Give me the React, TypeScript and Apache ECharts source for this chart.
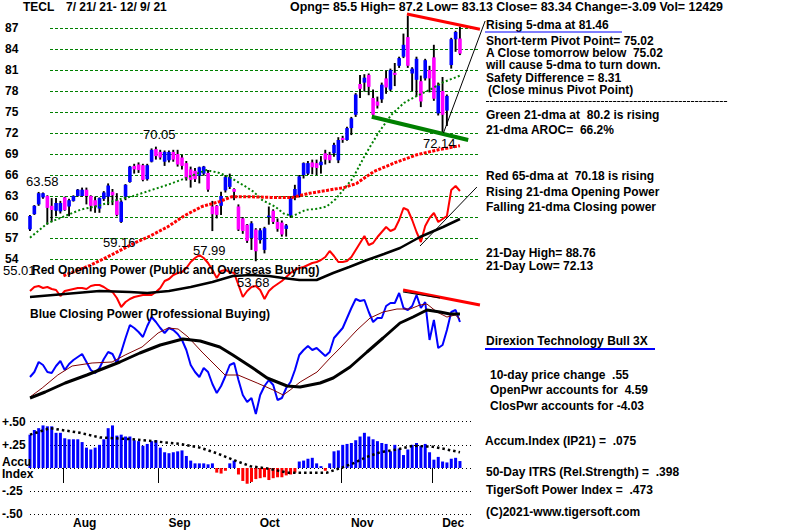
import React, { useEffect, useRef } from "react";
import * as echarts from "echarts";

const FONT = '"Liberation Sans", Arial, Helvetica, sans-serif';

// ---------------- DATA (100 trading days, 7/21/21 - 12/9/21) ----------------
const opens = [
  58.24, 60.4, 61.8, 62.8, 63.0, 61.6, 60.9, 60.8, 62.8, 61.5,
  62.3, 63.0, 63.0, 63.9, 63.0, 62.4, 61.2, 62.6, 62.9, 63.6,
  62.4, 59.3, 62.9, 65.0, 67.3, 67.5, 67.4, 65.4, 67.9, 69.7,
  69.3, 67.9, 68.1, 69.3, 69.0, 68.5, 67.7, 66.8, 66.6, 65.9,
  66.2, 66.3, 61.5, 61.6, 61.6, 63.8, 64.3, 64.0, 61.5, 59.8,
  58.9, 57.0, 58.2, 56.7, 55.3, 60.0, 60.9, 59.3, 59.2, 58.3,
  60.2, 63.0, 63.0, 66.0, 66.2, 67.8, 67.7, 67.4, 69.1, 68.9,
  69.1, 68.1, 71.3, 71.0, 72.7, 74.6, 79.0, 79.2, 80.3, 77.0,
  76.5, 76.8, 79.8, 78.2, 80.6, 81.6, 82.9, 85.7, 80.5, 79.6,
  79.4, 79.8, 81.0, 82.8, 74.8, 78.0, 75.2, 81.7, 85.4, 85.5,
];
const closes = [
  60.14, 61.6, 63.4, 63.4, 61.3, 61.0, 62.0, 62.0, 61.0, 62.4,
  63.0, 63.9, 63.9, 63.0, 61.6, 61.6, 62.7, 63.5, 64.5, 63.1,
  60.3, 62.2, 64.6, 67.2, 66.8, 66.7, 65.3, 67.4, 69.6, 68.7,
  68.5, 69.3, 69.3, 68.2, 67.5, 67.3, 65.5, 65.3, 65.4, 67.1,
  67.2, 63.9, 60.4, 60.3, 63.0, 65.7, 65.7, 63.6, 58.2, 58.0,
  56.6, 59.1, 55.1, 58.1, 58.4, 60.2, 59.3, 58.3, 57.5, 58.8,
  62.7, 64.0, 65.8, 67.7, 67.7, 67.1, 67.0, 67.9, 68.2, 68.1,
  70.3, 71.0, 71.0, 72.7, 74.1, 77.5, 78.3, 79.9, 78.6, 74.6,
  75.9, 78.9, 78.5, 81.0, 80.3, 82.7, 84.6, 81.6, 81.2, 82.6,
  76.5, 82.4, 79.8, 76.9, 78.8, 74.6, 77.3, 85.4, 86.43, 83.34,
];
const lows = [
  58.0, 60.3, 61.6, 62.6, 58.9, 59.3, 60.1, 60.5, 60.9, 60.1,
  62.2, 62.9, 62.9, 61.8, 60.8, 60.6, 60.6, 62.3, 61.7, 61.7,
  60.1, 59.16, 62.4, 64.9, 66.2, 66.3, 65.1, 65.2, 67.8, 68.2,
  68.2, 67.3, 67.8, 67.9, 67.2, 66.8, 65.2, 64.2, 65.0, 64.8,
  65.9, 63.6, 57.99, 59.8, 60.3, 63.5, 64.0, 62.4, 58.0, 57.6,
  56.3, 55.3, 53.68, 56.2, 54.8, 58.9, 59.0, 57.9, 57.2, 57.2,
  59.9, 62.4, 62.8, 65.5, 66.0, 66.1, 66.0, 66.2, 67.5, 67.7,
  68.6, 67.7, 70.6, 70.9, 71.7, 74.3, 77.0, 77.9, 77.4, 74.5,
  75.5, 76.3, 77.6, 78.0, 78.7, 81.3, 82.7, 81.3, 78.0, 77.2,
  75.7, 79.5, 77.8, 76.6, 74.5, 72.13, 73.0, 81.2, 83.6, 83.13,
];
const highs = [
  60.3, 61.7, 63.58, 63.5, 63.1, 62.7, 62.7, 62.3, 62.9, 62.6,
  63.1, 64.0, 64.2, 64.2, 63.1, 62.9, 62.8, 63.7, 64.8, 64.0,
  63.4, 62.4, 64.7, 67.3, 67.6, 67.8, 67.6, 67.6, 69.8, 70.05,
  69.6, 69.5, 69.5, 69.6, 69.6, 68.9, 68.0, 67.2, 67.0, 67.2,
  67.3, 66.7, 62.3, 61.7, 63.6, 66.0, 66.2, 64.1, 61.8, 60.0,
  59.0, 59.4, 58.4, 58.4, 58.6, 61.5, 61.1, 59.8, 59.5, 59.0,
  62.9, 64.6, 66.0, 67.8, 68.0, 68.2, 68.2, 68.7, 69.6, 69.3,
  70.6, 71.4, 71.6, 72.9, 74.3, 77.7, 80.3, 80.4, 80.5, 78.2,
  77.2, 79.2, 80.9, 81.2, 82.0, 82.9, 86.2, 88.76, 81.4, 82.9,
  80.2, 82.6, 81.6, 84.6, 79.2, 80.0, 77.5, 85.6, 86.6, 87.2,
];

// moving averages, read at [day, value]
const ma21: [number, number][] = [
  [0, 57.05], [4, 59.1], [7.9, 60.1], [11.9, 61.1], [15.8, 61.6], [19.8, 62.4],
  [23.8, 63.0], [27.7, 63.8], [31.7, 64.6], [35.6, 65.5], [40.6, 66.7], [43.6, 66.3],
  [46.5, 65.5], [49.5, 64.4], [51.5, 63.6], [53.5, 62.4], [56.4, 61.5], [58.4, 60.5],
  [60.4, 60.1], [63.4, 61.0], [66.3, 61.2], [68.3, 61.5], [70.3, 62.5], [72.3, 64.0],
  [74.3, 65.5], [77.2, 68.9], [80.2, 72.0], [83.2, 74.6], [86.1, 76.3], [89.1, 77.3],
  [92.1, 78.2], [95, 79.2], [99, 80.2],
];
const ma65: [number, number][] = [
  [7.7, 51.6], [13.9, 53.1], [18.8, 54.6], [23.8, 56.2], [27.7, 57.3], [31.7, 58.6],
  [35.6, 60.2], [39.6, 61.5], [43.6, 62.2], [46.5, 62.9], [50.5, 62.9], [55.4, 62.8],
  [60.4, 62.8], [64.4, 63.4], [68.3, 63.8], [72.3, 64.2], [75.2, 64.8], [79.2, 66.5],
  [84.2, 67.8], [89.1, 68.9], [94, 69.6], [99, 70.18],
];

// Opening Power (indicator units)
const openPower = [
  9, 13, 14, 12, 13, 11, 10, 4, 9, 10,
  11, 12, 12, 11, 14, 15, 15, 13, 10, 8,
  2, -7, -2, 1, 3, 4, 5, 5, 5, 8,
  12, 19, 21, 25, 27, 28, 32, 38, 42, 45,
  42, 37, 30, 22, 29, 30, 28, 27, 15, 3,
  9, 13, 14, 10, 1, 9, 13, 16, 19, 23,
  27, 30, 32, 33, 35, 37, 38, 40, 43, 49,
  44, 38, 38, 39, 43, 50, 57, 64, 55, 57,
  63, 68, 73, 69, 71, 80, 92, 90, 80, 68,
  58, 74, 82, 87, 78, 81, 84, 110, 114, 109,
];
const openPowerMA: [number, number][] = [
  [0, 3], [8, 6], [16, 9], [23, 8], [27, 7], [32, 9], [37, 13], [42, 18], [46.7, 24],
  [51, 25], [55, 24], [58.3, 22], [62, 20], [66, 20], [69.8, 27], [73.5, 33],
  [77.6, 40], [81.5, 46], [85.2, 52], [89.8, 63], [95.1, 73], [99, 81],
];

// Closing Power (indicator units)
const closePower = [
  43, 48, 58, 55, 48, 47, 54, 59, 50, 56,
  60, 63, 66, 58, 50, 47, 52, 61, 68, 66,
  57, 68, 82, 95, 92, 88, 83, 94, 103, 98,
  92, 87, 92, 90, 86, 80, 70, 55, 48, 43,
  52, 48, 36, 27, 34, 44, 55, 57, 40, 25,
  18, 22, 6, 25, 34, 40, 35, 20, 22, 32,
  38, 50, 65, 70, 74, 70, 72, 68, 64, 68,
  82, 87, 92, 102, 112, 121, 119, 120, 108, 98,
  102, 102, 114, 117, 117, 127, 112, 110, 114, 125,
  112, 118, 80, 100, 72, 75, 90, 108, 110, 98,
];
const closePowerFast: [number, number][] = [
  [0, 23], [2.8, 32], [6.4, 45], [9.7, 54], [14.3, 57], [18.9, 58], [21.9, 65],
  [25.8, 73], [29.5, 87], [31.8, 92], [34.1, 91], [36.4, 83], [39.6, 68], [42.6, 55],
  [44.9, 45], [47.9, 45], [52.3, 37], [56, 30], [58.3, 25], [59.9, 30], [62.2, 38],
  [66.1, 48], [69.1, 62], [71.4, 72], [75.3, 90], [78.3, 102], [81.3, 108],
  [84.5, 111], [87.5, 111], [89.8, 115], [91.4, 116], [93.7, 108], [96, 103],
  [97.9, 105], [99, 101],
];
const closePowerSlow: [number, number][] = [
  [0, 22], [3.5, 28], [8.1, 37], [13.1, 45], [20.7, 58], [25.3, 67], [30, 75],
  [35.2, 81], [39.2, 79], [43.7, 73], [46.7, 65], [51.3, 52], [54.6, 42], [59.2, 34],
  [62.2, 33], [66.8, 37], [69.8, 42], [73.7, 53], [77.6, 68], [81.3, 82], [85.2, 97],
  [88.2, 103], [91.4, 110], [94.4, 108], [96.7, 106], [99, 106],
];

// Accumulation Index (IP21)
const accum = [
  0.36, 0.41, 0.43, 0.46, 0.45, 0.45, 0.38, 0.38, 0.32, 0.31,
  0.31, 0.31, 0.28, 0.22, 0.2, 0.22, 0.25, 0.31, 0.43, 0.46,
  0.35, 0.36, 0.34, 0.34, 0.3, 0.29, 0.24, 0.26, 0.29, 0.3,
  0.22, 0.17, 0.16, 0.17, 0.18, 0.19, 0.13, 0.08, 0.05, 0.05,
  0.05, 0.04, 0.05, -0.05, -0.06, -0.03, 0.05, 0.08, -0.07, -0.14,
  -0.17, -0.15, -0.12, -0.11, -0.1, -0.13, -0.11, -0.1, -0.1, -0.08,
  -0.07, -0.05, 0.07, 0.08, 0.1, 0.11, 0.05, 0.02, -0.03, 0.05,
  0.18, 0.19, 0.25, 0.26, 0.27, 0.3, 0.34, 0.38, 0.34, 0.31,
  0.29, 0.27, 0.26, 0.18, 0.25, 0.21, 0.14, 0.2, 0.25, 0.27,
  0.24, 0.26, 0.17, 0.09, 0.12, 0.07, 0.06, 0.1, 0.11, 0.075,
];
const accumMA: [number, number][] = [
  [0, 0.36], [4.6, 0.43], [11.5, 0.38], [16.1, 0.33], [23.7, 0.31], [28.3, 0.29],
  [34.5, 0.26], [39.1, 0.22], [43, 0.16], [46.7, 0.09], [50.7, 0.02], [55.3, -0.01],
  [59.2, -0.05], [63.8, -0.05], [68.4, -0.05], [72.1, 0.01], [74.4, 0.05], [77.6, 0.12],
  [80.6, 0.17], [84.5, 0.2], [88.2, 0.24], [92.8, 0.23], [96, 0.2], [99, 0.17],
];

// trend lines [day, value]
const priceResistance: [number, number][] = [[86.8, 89.0], [103.6, 86.81]];
const priceSupport: [number, number][] = [[78.7, 74.33], [100.9, 71.0]];
const priceFan: [number, number][] = [[95.2, 72.0], [104.8, 88.0]];
const openPowerTrend: [number, number][] = [[89.8, 54], [102.9, 113]];
const closePowerTrend: [number, number][] = [[85.9, 130], [103.6, 115]];
const closePowerTrendThin: [number, number][] = [[85.9, 128], [94.4, 122]];

// axes
const monthNames = ["Aug", "Sep", "Oct", "Nov", "Dec"];
const monthStart = [8, 30, 51, 72, 93];
const priceMin = 54, priceMax = 87, priceStep = 3;

// ---------------- LAYOUT ----------------
const X0 = 30; // pixel of day 0
const DX = 4.343; // pixels per trading day
const XMIN = -1, XMAX = 106;
const dgLeft = X0 + XMIN * DX;
const dgWidth = (XMAX - XMIN) * DX;

function txt(text: string, x: number, y: number, o: any = {}) {
  return {
    type: "text",
    x,
    y,
    z: 100,
    silent: true,
    style: {
      text,
      fill: o.fill || "#000",
      fontSize: o.size || 12,
      fontWeight: o.weight || "bold",
      fontFamily: FONT,
      align: o.align || "left",
      verticalAlign: "middle",
    },
  };
}

function lineSeries(data: any[], idx: number, color: string, width: number, type: any = "solid", z = 3) {
  return {
    type: "line",
    xAxisIndex: idx,
    yAxisIndex: idx,
    data,
    symbol: "none",
    showSymbol: false,
    silent: true,
    z,
    lineStyle: { color, width, type },
  };
}

export default function App() {
  const ref = useRef<HTMLDivElement>(null);
  useEffect(() => {
    if (!ref.current) return;
    const chart = echarts.init(ref.current, null, { renderer: "svg" });
    const hiddenX = (g: number, min: number, max: number) => ({
      type: "value", gridIndex: g, min, max, show: false,
    });
    const hiddenY = (g: number, min: number, max: number) => ({
      type: "value", gridIndex: g, min, max, show: false,
    });
    const monthTicks = monthStart.map((d) => d - 0.4);
    const monthLabelAt = monthStart.map((d) => d + 1.9);
    const candleData = opens.map((o, i) => [i, o, closes[i], lows[i], highs[i]]);

    const option: any = {
      animation: false,
      backgroundColor: "#fff",
      grid: [
        { left: 50, width: 430, top: 28, height: 231, outerBoundsMode: "none" },
        { left: dgLeft, width: dgWidth, top: 7, height: 315, outerBoundsMode: "none" },
        { left: dgLeft, width: dgWidth, top: 140, height: 180, outerBoundsMode: "none" },
        { left: dgLeft, width: dgWidth, top: 280, height: 140, outerBoundsMode: "none" },
        { left: 30, width: 442, top: 421.7, height: 92.6, outerBoundsMode: "none" },
        { left: dgLeft, width: dgWidth, top: 421.7, height: 92.6, outerBoundsMode: "none" },
      ],
      xAxis: [
        hiddenX(0, 0, 1),
        hiddenX(1, XMIN, XMAX),
        hiddenX(2, XMIN, XMAX),
        hiddenX(3, XMIN, XMAX),
        hiddenX(4, 0, 1),
        {
          type: "value",
          gridIndex: 5,
          min: XMIN,
          max: XMAX,
          position: "bottom",
          axisLine: { show: false },
          splitLine: { show: false },
          axisTick: {
            show: true,
            customValues: monthTicks,
            length: 15,
            lineStyle: { color: "#000", width: 1 },
          },
          axisLabel: {
            show: true,
            customValues: monthLabelAt,
            formatter: (v: number) => {
              let k = 0, best = 1e9;
              monthLabelAt.forEach((p, j) => {
                if (Math.abs(p - v) < best) { best = Math.abs(p - v); k = j; }
              });
              return monthNames[k];
            },
            align: "left",
            margin: 3,
            color: "#000",
            fontWeight: "bold",
            fontSize: 12,
            fontFamily: FONT,
          },
        },
      ],
      yAxis: [
        {
          type: "value",
          gridIndex: 0,
          min: priceMin,
          max: priceMax,
          interval: priceStep,
          axisLine: { show: false },
          axisTick: { show: false },
          splitLine: { show: true, lineStyle: { color: "#008000", width: 1, type: [3, 2] } },
          axisLabel: {
            align: "left",
            margin: 45,
            color: "#000",
            fontWeight: "bold",
            fontSize: 12,
            fontFamily: FONT,
          },
        },
        hiddenY(1, 45, 90),
        hiddenY(2, -20, 160),
        hiddenY(3, 0, 140),
        {
          type: "value",
          gridIndex: 4,
          min: -0.5,
          max: 0.5,
          interval: 0.25,
          axisLine: { show: false },
          axisTick: { show: false },
          splitLine: { show: true, lineStyle: { color: "#000", width: 1, type: [1, 3] } },
          axisLabel: {
            align: "left",
            margin: 28,
            color: "#000",
            fontWeight: "bold",
            fontSize: 12,
            fontFamily: FONT,
            formatter: (v: number) =>
              Math.abs(v) < 1e-9 ? "" : (v > 0 ? "+" : "-") + Math.abs(v).toFixed(2).replace(/^0/, ""),
          },
        },
        hiddenY(5, -0.5, 0.5),
      ],
      series: [
        {
          type: "custom",
          xAxisIndex: 1,
          yAxisIndex: 1,
          data: candleData,
          encode: { x: 0, y: [1, 2, 3, 4] },
          silent: true,
          z: 2,
          renderItem: (_p: any, api: any) => {
            const i = api.value(0);
            const o = api.value(1), c = api.value(2), l = api.value(3), h = api.value(4);
            const pO = api.coord([i, o]);
            const pC = api.coord([i, c]);
            const pL = api.coord([i, l]);
            const pH = api.coord([i, h]);
            const x = pO[0];
            const top = Math.min(pO[1], pC[1]);
            const bot = Math.max(pO[1], pC[1]);
            return {
              type: "group",
              children: [
                { type: "rect", shape: { x: x - 1, y: pH[1], width: 1.9, height: Math.max(1, pL[1] - pH[1]) }, style: { fill: "#000" } },
                { type: "rect", shape: { x: x - 1.8, y: top, width: 3.6, height: Math.max(1.5, bot - top) }, style: { fill: c >= o ? "#0000ff" : "#ff00ff" } },
              ],
            };
          },
        },
        lineSeries(ma21, 1, "#008000", 2, [2, 2.3], 4),
        lineSeries(ma65, 1, "#ff0000", 3, [3, 1.4], 4),
        lineSeries(priceResistance, 1, "#ff0000", 3, "solid", 5),
        lineSeries(priceSupport, 1, "#008000", 4, "solid", 5),
        lineSeries(priceFan, 1, "#000", 1, "solid", 5),
        lineSeries(openPower.map((v, i) => [i, v]), 2, "#ff0000", 2, "solid", 3),
        lineSeries(openPowerMA, 2, "#000", 2.5, "solid", 3),
        lineSeries(openPowerTrend, 2, "#000", 1, "solid", 4),
        lineSeries(closePower.map((v, i) => [i, v]), 3, "#0000ff", 2, "solid", 3),
        lineSeries(closePowerFast, 3, "#800000", 1, "solid", 4),
        lineSeries(closePowerSlow, 3, "#000", 3, "solid", 4),
        lineSeries(closePowerTrend, 3, "#ff0000", 3, "solid", 5),
        lineSeries(closePowerTrendThin, 3, "#000", 1, "solid", 5),
        {
          type: "bar",
          xAxisIndex: 5,
          yAxisIndex: 5,
          data: accum.map((v, i) => [i, v]),
          barWidth: 3,
          silent: true,
          z: 2,
          itemStyle: { color: (p: any) => (p.value[1] >= 0 ? "#0000ff" : "#ff0000") },
        },
        lineSeries(accumMA, 5, "#000", 2.5, [2.5, 3], 4),
      ],
      graphic: [
        txt("TECL", 23, 7),
        txt("7/ 21/ 21- 12/ 9/ 21", 66, 7),
        txt("Opng= 85.5 High= 87.2 Low= 83.13 Close= 83.34 Change=-3.09 Vol= 12429", 290, 7, { size: 12.4 }),
        txt("63.58", 26, 181, { weight: "normal", size: 13 }),
        txt("70.05", 143, 134, { weight: "normal", size: 13 }),
        txt("59.16", 103, 242, { weight: "normal", size: 13 }),
        txt("57.99", 193, 250, { weight: "normal", size: 13 }),
        txt("53.68", 237, 282, { weight: "normal", size: 13 }),
        txt("72.14", 423, 143, { weight: "normal", size: 13 }),
        txt("55.01", 3, 270, { weight: "normal", size: 13 }),
        txt("Red Opening Power (Public and Overseas Buying)", 32, 270),
        txt("Blue Closing Power (Professional Buying)", 30, 314),
        txt("Accu", 2, 462),
        txt("Index", 2, 474),
        txt("Rising 5-dma at 81.46", 486, 25),
        { type: "line", z: 100, silent: true, shape: { x1: 485, y1: 32, x2: 622, y2: 32 }, style: { stroke: "#0000ff", lineWidth: 1 } },
        txt("Short-term Pivot Point= 75.02", 486, 41),
        txt("A Close tomorrow below  75.02", 486, 53),
        txt("will cause 5-dma to turn down.", 486, 65),
        txt("Safety Difference = 8.31", 486, 78),
        txt("(Close minus Pivot Point)", 488, 90),
        { type: "line", z: 100, silent: true, shape: { x1: 486, y1: 101.5, x2: 728, y2: 101.5 }, style: { stroke: "#000", lineWidth: 1, lineDash: [3.2, 0.9] } },
        txt("Green 21-dma at  80.2 is rising", 486, 115),
        txt("21-dma AROC=  66.2%", 486, 130),
        txt("Red 65-dma at  70.18 is rising", 486, 176),
        txt("Rising 21-dma Opening Power", 486, 192),
        txt("Falling 21-dma Closing power", 486, 207),
        txt("21-Day High= 88.76", 486, 253),
        txt("21-Day Low= 72.13", 486, 266),
        txt("Direxion Technology Bull 3X", 486, 341),
        { type: "line", z: 100, silent: true, shape: { x1: 485, y1: 349, x2: 655, y2: 349 }, style: { stroke: "#0000ff", lineWidth: 2 } },
        txt("10-day price change  .55", 490, 375),
        txt("OpenPwr accounts for  4.59", 490, 390),
        txt("ClosPwr accounts for -4.03", 490, 406),
        txt("Accum.Index (IP21) =  .075", 485, 441),
        txt("50-Day ITRS (Rel.Strength) =  .398", 486, 472),
        txt("TigerSoft Power Index =  .473", 486, 490),
        txt("(C)2021-www.tigersoft.com", 486, 512),
      ],
    };
    chart.setOption(option);
    return () => chart.dispose();
  }, []);
  return (
    <div
      ref={ref}
      style={{ position: "fixed", left: 0, top: 0, width: 800, height: 530, background: "#fff" }}
    />
  );
}
